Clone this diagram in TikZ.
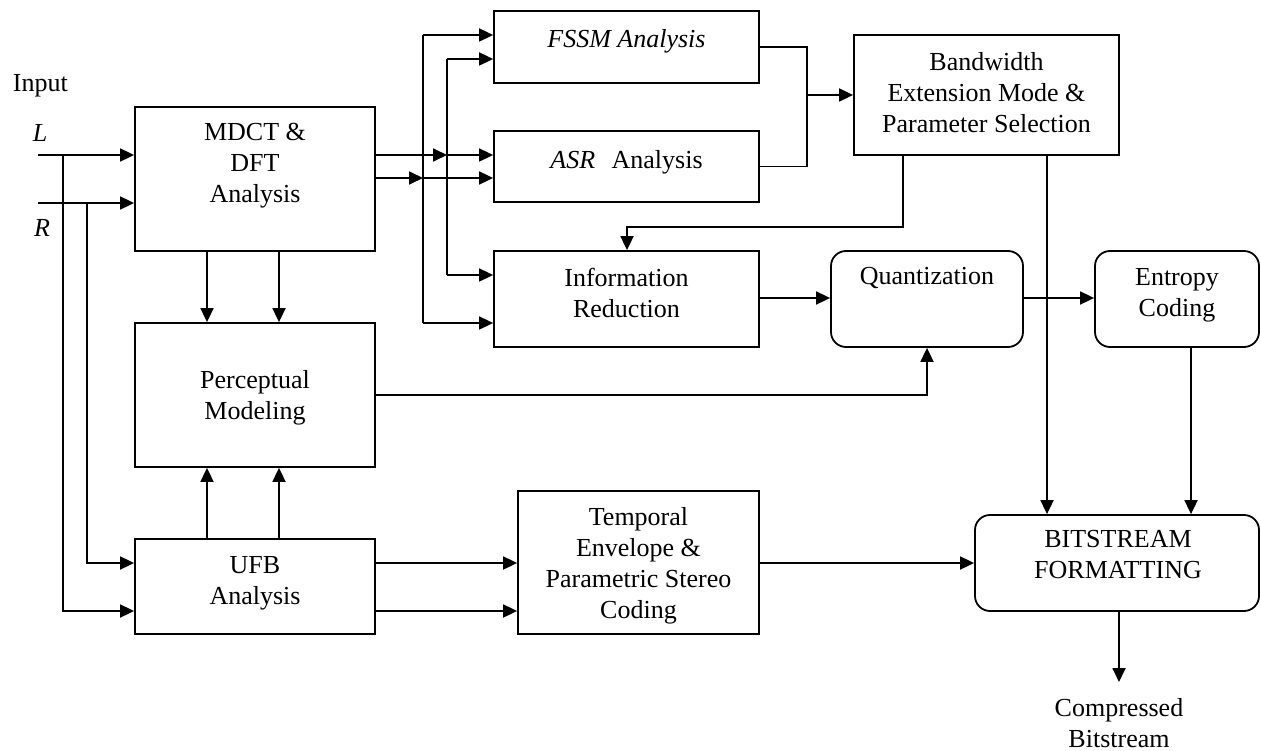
\documentclass[tikz,border=0pt]{standalone}
\usepackage{fontspec}
\setmainfont{Liberation Serif}
\usetikzlibrary{arrows.meta}
\begin{document}
\begin{tikzpicture}[x=1pt,y=-1pt,line width=1.8pt,
  arr/.style={-{Triangle[length=14pt,width=13pt]}},
  blk/.style={draw, rectangle, inner sep=0pt, line width=1.8pt},
  rblk/.style={blk, rounded corners=15pt},
  txt/.style={font=\fontsize{26}{31}\selectfont, align=center, inner sep=0pt},
]
\useasboundingbox (0,0) rectangle (1261,751);

% boxes
\node[blk, minimum width=240pt, minimum height=144pt] (mdct) at (255,179) {};
\node[blk, minimum width=240pt, minimum height=144pt] (perc) at (255,395) {};
\node[blk, minimum width=240pt, minimum height=95pt] (ufb) at (255,586.5) {};
\node[blk, minimum width=265pt, minimum height=72pt] (fssm) at (626.5,47) {};
\node[blk, minimum width=265pt, minimum height=71pt] (asr) at (626.5,166.5) {};
\node[blk, minimum width=265pt, minimum height=96pt] (info) at (626.5,299) {};
\node[blk, minimum width=265pt, minimum height=120pt] (bw) at (986.5,95) {};
\node[rblk, minimum width=192pt, minimum height=96pt] (quant) at (927,299) {};
\node[rblk, minimum width=164pt, minimum height=96pt] (ent) at (1177,299) {};
\node[blk, minimum width=241pt, minimum height=143pt] (temp) at (638.5,562.5) {};
\node[rblk, minimum width=284pt, minimum height=96pt] (bits) at (1117,563) {};

% texts
\node[txt] (mdctT) at (255,166) {MDCT \&\\DFT\\Analysis};
\node[txt] (percT) at (255,398) {Perceptual\\Modeling};
\node[txt] (ufbT) at (255,583) {UFB\\Analysis};
\node[txt] (fssmT) at (626.5,41) {\itshape FSSM Analysis};
\node[txt] (asrT) at (626.5,162) {\textit{ASR}\hspace{10pt} Analysis};
\node[txt] (infoT) at (626.5,293) {Information\\Reduction};
\node[txt] (bwT) at (986.5,93) {Bandwidth\\Extension Mode \&\\Parameter Selection};
\node[txt] (quantT) at (927,278) {Quantization};
\node[txt] (entT) at (1177,295) {Entropy\\Coding};
\node[txt] (tempT) at (638.5,566) {Temporal\\Envelope \&\\Parametric Stereo\\Coding};
\node[txt] (bitsT) at (1118,555) {BITSTREAM\\FORMATTING};
\node[txt] (outT) at (1119,723) {Compressed\\Bitstream};
\node[txt, anchor=west] (inT) at (12,86) {Input};
\node[txt] (lT) at (40,133) {\itshape L};
\node[txt] (rT) at (42,228) {\itshape R};

% coordinates
\coordinate (Lin) at (38,155);
\coordinate (Rin) at (38,203);
\coordinate (Lb) at (63,155);
\coordinate (Rb) at (87,203);
\coordinate (vA) at (447,155);
\coordinate (vB) at (423,178);
\coordinate (v1t) at (423,35);
\coordinate (v1b) at (423,323);
\coordinate (v2t) at (447,59);
\coordinate (v2b) at (447,275);
\coordinate (mg) at (807,95);
\coordinate (fb) at (627,227);
\coordinate (out) at (1119,682);

% inputs
\draw[arr] (Lin) -- (Lin -| mdct.west);
\draw[arr] (Rin) -- (Rin -| mdct.west);
\draw[arr] (Lb) |- (ufb.west |- 0,611);
\draw[arr] (Rb) |- (ufb.west |- 0,563);

% MDCT outputs
\draw[arr] (mdct.east |- vA) -- (vA);
\draw[arr] (vA) -- (asr.west |- vA);
\draw[arr] (mdct.east |- vB) -- (vB);
\draw[arr] (vB) -- (asr.west |- vB);
\draw (v1t) -- (v1b);
\draw[arr] (v1t) -- (fssm.west |- v1t);
\draw[arr] (v1b) -- (info.west |- v1b);
\draw (v2t) -- (v2b);
\draw[arr] (v2t) -- (fssm.west |- v2t);
\draw[arr] (v2b) -- (info.west |- v2b);

% MDCT / UFB to perceptual
\draw[arr] (mdct.south -| 207,0) -- (perc.north -| 207,0);
\draw[arr] (mdct.south -| 279,0) -- (perc.north -| 279,0);
\draw[arr] (ufb.north -| 207,0) -- (perc.south -| 207,0);
\draw[arr] (ufb.north -| 279,0) -- (perc.south -| 279,0);

% analysis merge to bandwidth
\draw (fssm.east) -| (mg) |- (asr.east);
\draw[arr] (mg) -- (bw.west);

% bandwidth feedback and output
\draw[arr] (bw.south -| 903,0) |- (fb) -- (info.north -| fb);
\draw[arr] (bw.south -| 1047,0) -- (bits.north -| 1047,0);

% quantization chain
\draw[arr] (info.east |- 0,298) -- (quant.west |- 0,298);
\draw[arr] (quant.east |- 0,298) -- (ent.west |- 0,298);
\draw[arr] (perc.east) -| (quant.south);
\draw[arr] (ent.south -| 1191,0) -- (bits.north -| 1191,0);

% UFB to temporal to bitstream
\draw[arr] (ufb.east |- 0,563) -- (temp.west |- 0,563);
\draw[arr] (ufb.east |- 0,611) -- (temp.west |- 0,611);
\draw[arr] (temp.east |- 0,563) -- (bits.west |- 0,563);

% output
\draw[arr] (bits.south -| out) -- (out);
\end{tikzpicture}
\end{document}
